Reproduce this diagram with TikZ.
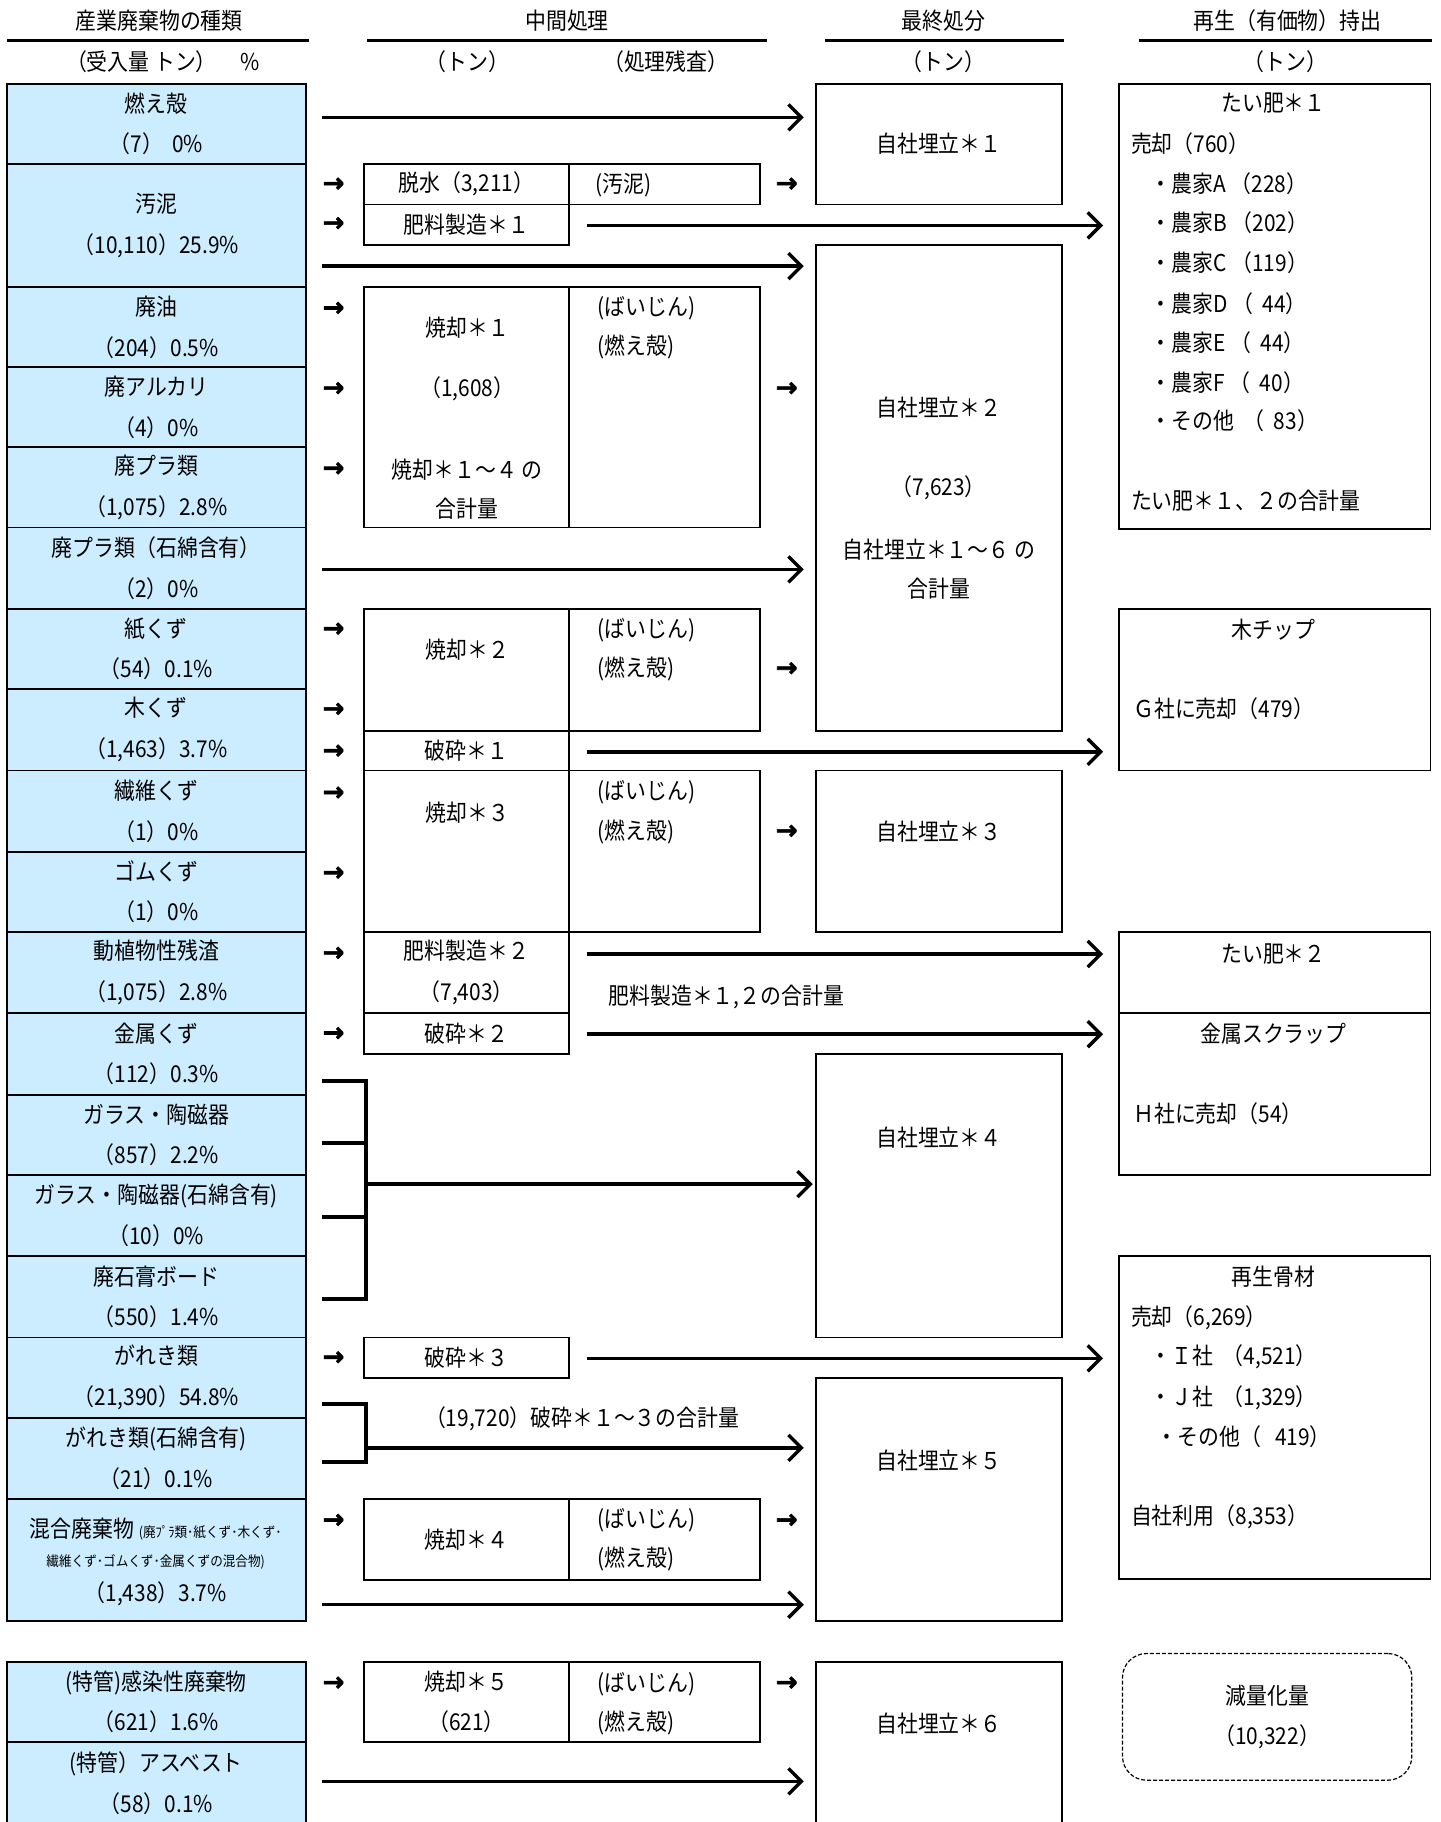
\documentclass[tikz,border=0pt]{standalone}
\usepackage{fontspec}
\newfontfamily\jp[FakeStretch=0.9]{Noto Sans CJK JP}
\newfontfamily\arrowfont[FakeBold=2.5]{DejaVu Sans Bold}
\usepackage{tikz}
\usetikzlibrary{positioning,arrows.meta,calc}
\usepackage{xcolor}
\definecolor{srcblue}{RGB}{204,236,255}

\begin{document}
\begin{tikzpicture}[x=0.58105pt,y=-0.58105pt,
  every node/.style={font=\jp\fontsize{11.6}{20.3}\selectfont,inner sep=0pt},
  boxsize/.style 2 args={minimum width=#1*0.58105pt,minimum height=#2*0.58105pt},
  srcbox/.style={draw,fill=srcblue,line width=0.9pt,align=center,boxsize={257}{#1}},
  procbox/.style={draw,line width=0.9pt,align=center},
  colA/.style={procbox,boxsize={177}{#1}},
  colB/.style={procbox,boxsize={164}{#1}},
  finbox/.style={procbox,boxsize={212}{#1}},
  recbox/.style={procbox,boxsize={268}{#1}},
  flow/.style={line width=1.7pt,-{Straight Barb[length=6.5pt,width=13pt]},shorten >=5.5pt},
  brk/.style={line width=2pt},
  sarr/.style={font=\arrowfont\fontsize{13}{13}\selectfont},
  rule/.style={line width=1.2pt}]
\useasboundingbox (0,0) rectangle (1240,1568);
% headers
\node (hsrc) at (137,18) {産業廃棄物の種類};
\node (hmid) at (488,18) {中間処理};
\node (hfin) at (812,18) {最終処分};
\node (hrec) at (1108,18) {再生（有価物）持出};
\draw[rule] (6,35) -- (266,35);
\draw[rule] (316,35) -- (660,35);
\draw[rule] (710,35) -- (916,35);
\draw[rule] (980,35) -- (1232,35);
\node (usrc) at (140,53) {（受入量 トン）\quad\%};
\node (umid) at (402,53) {（トン）};
\node (ures) at (573,53) {（処理残査）};
\node (ufin) at (812,53) {（トン）};
\node (urec) at (1106,53) {（トン）};
% waste types
\node[srcbox=69] (moegara) at (134.5,106.5) {燃え殻\\（7）\ \ 0\%};
\node[srcbox=106] (odei) at (134.5,194) {汚泥\\（10,110）25.9\%};
\node[srcbox=69] (haiyu) at (134.5,281.5) {廃油\\（204）0.5\%};
\node[srcbox=69] (alkali) at (134.5,350.5) {廃アルカリ\\（4）0\%};
\node[srcbox=69] (pla) at (134.5,419.5) {廃プラ類\\（1,075）2.8\%};
\node[srcbox=70] (plaas) at (134.5,489) {廃プラ類（石綿含有）\\（2）0\%};
\node[srcbox=69] (kami) at (134.5,558.5) {紙くず\\（54）0.1\%};
\node[srcbox=70] (ki) at (134.5,628) {木くず\\（1,463）3.7\%};
\node[srcbox=70] (seni) at (134.5,698) {繊維くず\\（1）0\%};
\node[srcbox=69] (gomu) at (134.5,767.5) {ゴムくず\\（1）0\%};
\node[srcbox=70] (doshoku) at (134.5,837) {動植物性残渣\\（1,075）2.8\%};
\node[srcbox=70] (kinzoku) at (134.5,907) {金属くず\\（112）0.3\%};
\node[srcbox=69] (glass) at (134.5,976.5) {ガラス・陶磁器\\（857）2.2\%};
\node[srcbox=70] (glassas) at (134.5,1046) {ガラス・陶磁器(石綿含有)\\（10）0\%};
\node[srcbox=70] (sekko) at (134.5,1116) {廃石膏ボード\\（550）1.4\%};
\node[srcbox=69] (gareki) at (134.5,1185.5) {がれき類\\（21,390）54.8\%};
\node[srcbox=70] (garekias) at (134.5,1255) {がれき類(石綿含有)\\（21）0.1\%};
\node[srcbox=105] (kongo) at (134.5,1342.5) {};
\node (kongoa) at (134,1316) {混合廃棄物 {\fontsize{7}{8}\selectfont (廃ﾌﾟﾗ類･紙くず･木くず･}};
\node (kongob) at (134,1344) {\fontsize{7}{8}\selectfont 繊維くず･ゴムくず･金属くずの混合物)};
\node (kongoc) at (134,1372) {（1,438）3.7\%};
\node[srcbox=69] (kansen) at (134.5,1464.5) {(特管)感染性廃棄物\\（621）1.6\%};
\node[srcbox=71] (asbest) at (134.5,1534.5) {(特管）アスベスト\\（58）0.1\%};
% small arrows in
\node[sarr] (ia1) at (287,159) {→};
\node[sarr] (ia2) at (287,193) {→};
\node[sarr] (ia3) at (287,266) {→};
\node[sarr] (ia4) at (287,335) {→};
\node[sarr] (ia5) at (287,404) {→};
\node[sarr] (ia6) at (287,542) {→};
\node[sarr] (ia7) at (287,611) {→};
\node[sarr] (ia8) at (287,647) {→};
\node[sarr] (ia9) at (287,683) {→};
\node[sarr] (ia10) at (287,752) {→};
\node[sarr] (ia11) at (287,821) {→};
\node[sarr] (ia12) at (287,890) {→};
\node[sarr] (ia13) at (287,1169) {→};
\node[sarr] (ia14) at (287,1309) {→};
\node[sarr] (ia15) at (287,1449) {→};
% intermediate treatment
\node[colA=35] (dassui) at (401.5,158.5) {脱水（3,211）};
\node[colB=35] (dassuires) at (572,158.5) {};
\node[anchor=west] (dassuirest) at (512,159) {(汚泥)};
\node[colA=35] (hiryo1) at (401.5,193.5) {肥料製造＊１};
\node[colA=207] (shokyaku1) at (401.5,350.5) {};
\node (shoa) at (402,282) {焼却＊１};
\node (shob) at (402,335) {（1,608）};
\node (shoc) at (402,404) {焼却＊１～４ の};
\node (shod) at (402,438) {合計量};
\node[colB=207] (res1) at (572,350.5) {};
\node[anchor=west] (res1a) at (514,265) {(ばいじん)};
\node[anchor=west] (res1b) at (514,299) {(燃え殻)};
\node[colA=105] (shokyaku2) at (401.5,576.5) {};
\node (sho2a) at (402,559) {焼却＊２};
\node[colB=105] (res2) at (572,576.5) {};
\node[anchor=west] (res2a) at (514,542) {(ばいじん)};
\node[anchor=west] (res2b) at (514,576) {(燃え殻)};
\node[colA=34] (hasai1) at (401.5,646) {破砕＊１};
\node[colA=139] (shokyaku3) at (401.5,732.5) {};
\node (sho3a) at (402,699) {焼却＊３};
\node[colB=139] (res3) at (572,732.5) {};
\node[anchor=west] (res3a) at (514,682) {(ばいじん)};
\node[anchor=west] (res3b) at (514,716) {(燃え殻)};
\node[colA=70] (hiryo2) at (401.5,837) {肥料製造＊２\\（7,403）};
\node[colA=35] (hasai2) at (401.5,889.5) {破砕＊２};
\node[colA=35] (hasai3) at (401.5,1168.5) {破砕＊３};
\node[colA=70] (shokyaku4) at (401.5,1325) {焼却＊４};
\node[colB=70] (res4) at (572,1325) {};
\node[anchor=west] (res4a) at (514,1308) {(ばいじん)};
\node[anchor=west] (res4b) at (514,1342) {(燃え殻)};
\node[colA=69] (shokyaku5) at (401.5,1464.5) {焼却＊５\\（621）};
\node[colB=69] (res5) at (572,1464.5) {};
\node[anchor=west] (res5a) at (514,1449) {(ばいじん)};
\node[anchor=west] (res5b) at (514,1483) {(燃え殻)};
\node (hiryosum) at (625,858) {肥料製造＊１,２の合計量};
\node (hasaisum) at (501,1221) {（19,720）破砕＊１～３の合計量};
% small arrows out
\node[sarr] (oa1) at (677,159) {→};
\node[sarr] (oa2) at (677,335) {→};
\node[sarr] (oa3) at (677,576) {→};
\node[sarr] (oa4) at (677,716) {→};
\node[sarr] (oa5) at (677,1309) {→};
\node[sarr] (oa6) at (677,1449) {→};
% final disposal
\node[finbox=104] (fin1) at (808,124) {自社埋立＊１};
\node[finbox=418] (fin2) at (808,420) {};
\node (fin2a) at (808,351) {自社埋立＊２};
\node (fin2b) at (808,420) {（7,623）};
\node (fin2c) at (808,473) {自社埋立＊１～６ の};
\node (fin2d) at (808,507) {合計量};
\node[finbox=139] (fin3) at (808,732.5) {};
\node (fin3a) at (808,716) {自社埋立＊３};
\node[finbox=244] (fin4) at (808,1029) {};
\node (fin4a) at (808,979) {自社埋立＊４};
\node[finbox=209] (fin5) at (808,1290.5) {};
\node (fin5a) at (808,1257) {自社埋立＊５};
\node[finbox=142] (fin6) at (808,1501) {};
\node (fin6a) at (808,1483) {自社埋立＊６};
% recycling
\node[recbox=383] (rec1) at (1097,263.5) {};
\node (rec1a) at (1096,89) {たい肥＊１};
\node[anchor=west] (rec1b) at (973,124) {売却（760）};
\node[anchor=west] (rec1c) at (990,158) {・農家A （228）};
\node[anchor=west] (rec1d) at (990,192) {・農家B （202）};
\node[anchor=west] (rec1e) at (990,226) {・農家C （119）};
\node[anchor=west] (rec1f) at (990,261) {・農家D （\ \ 44）};
\node[anchor=west] (rec1g) at (990,295) {・農家E （\ \ 44）};
\node[anchor=west] (rec1h) at (990,329) {・農家F （\ \ 40）};
\node[anchor=west] (rec1i) at (990,362) {・その他\ \ （\ \ 83）};
\node[anchor=west] (rec1j) at (973,431) {たい肥＊１、２の合計量};
\node[recbox=139] (rec2) at (1097,593.5) {};
\node (rec2a) at (1096,542) {木チップ};
\node[anchor=west] (rec2b) at (975,610) {Ｇ社に売却（479）};
\node[recbox=70] (rec3) at (1097,837) {};
\node (rec3a) at (1096,821) {たい肥＊２};
\node[recbox=139] (rec4) at (1097,941.5) {};
\node (rec4a) at (1096,890) {金属スクラップ};
\node[anchor=west] (rec4b) at (975,958) {Ｈ社に売却（54）};
\node[recbox=278] (rec5) at (1097,1220) {};
\node (rec5a) at (1096,1099) {再生骨材};
\node[anchor=west] (rec5b) at (973,1134) {売却（6,269）};
\node[anchor=west] (rec5c) at (990,1168) {・Ｉ社\ \ （4,521）};
\node[anchor=west] (rec5d) at (990,1203) {・Ｊ社\ \ （1,329）};
\node[anchor=west] (rec5e) at (995,1236) {・その他（\ \ \ 419）};
\node[anchor=west] (rec5f) at (973,1305) {自社利用（8,353）};
\node[draw,line width=0.6pt,dash pattern=on 2pt off 1pt,rounded corners=12pt,
  align=center,boxsize={249}{109}] (genryo) at (1090.5,1477.5) {減量化量\\（10,322）};
% long arrows to final disposal
\coordinate (s1) at (277,101);
\coordinate (s2) at (277,229);
\coordinate (s3) at (277,490);
\coordinate (s6) at (277,1381);
\coordinate (s7) at (277,1533);
\draw[flow] (s1) -- (s1 -| fin1.west);
\draw[flow] (s2) -- (s2 -| fin2.west);
\draw[flow] (s3) -- (s3 -| fin2.west);
\draw[flow] (s6) -- (s6 -| fin5.west);
\draw[flow] (s7) -- (s7 -| fin6.west);
% brackets
\coordinate (g1) at (277,930);
\coordinate (g2) at (277,984);
\coordinate (g3) at (277,1047);
\coordinate (g4) at (277,1118);
\coordinate (gj) at (315,1019);
\draw[brk] (g1) -- (g1 -| gj) -- (g4 -| gj) -- (g4);
\draw[brk] (g2) -- (g2 -| gj);
\draw[brk] (g3) -- (g3 -| gj);
\draw[flow,shorten >=1pt] (gj) -- (gj -| fin4.west);
\coordinate (k1) at (277,1208);
\coordinate (k2) at (277,1258);
\coordinate (kj) at (315,1246);
\draw[brk] (k1) -- (k1 -| kj) -- (k2 -| kj) -- (k2);
\draw[flow] (kj) -- (kj -| fin5.west);
% long arrows to recycling
\coordinate (p1) at (505,194);
\coordinate (p2) at (505,647);
\coordinate (p3) at (505,821);
\coordinate (p4) at (505,890);
\coordinate (p5) at (505,1169);
\draw[flow,shorten >=7.5pt] (p1) -- (p1 -| rec1.west);
\draw[flow,shorten >=7.5pt] (p2) -- (p2 -| rec2.west);
\draw[flow,shorten >=7.5pt] (p3) -- (p3 -| rec3.west);
\draw[flow,shorten >=7.5pt] (p4) -- (p4 -| rec4.west);
\draw[flow,shorten >=7.5pt] (p5) -- (p5 -| rec5.west);
\end{tikzpicture}
\end{document}
